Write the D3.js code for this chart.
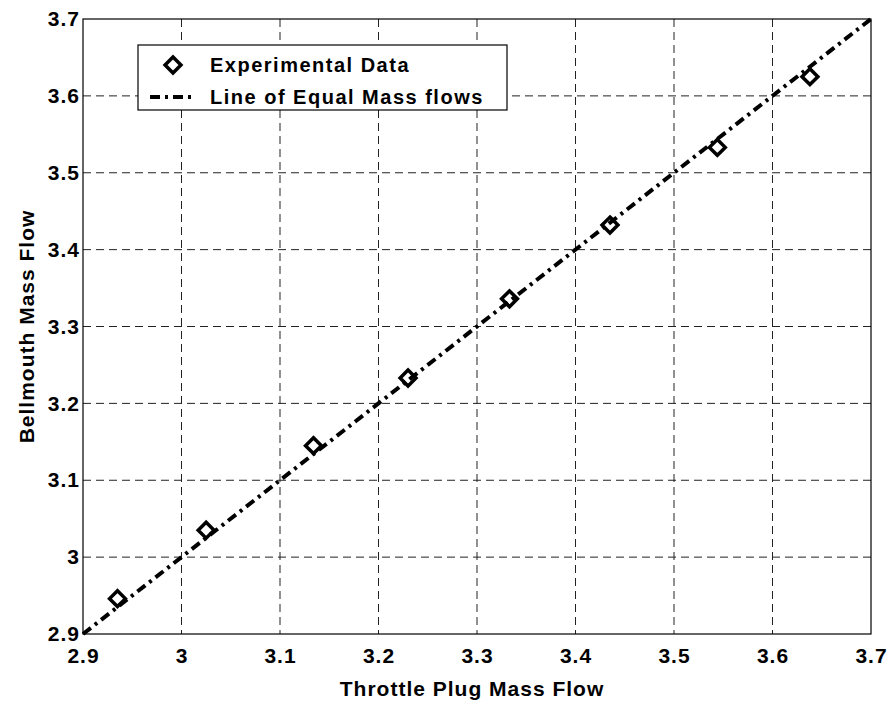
<!DOCTYPE html>
<html>
<head>
<meta charset="utf-8">
<script src="https://cdn.jsdelivr.net/npm/d3@7"></script>
<style>
  body { margin: 0; background: #fff; }
  text { font-family: "Liberation Sans", Arial, sans-serif; font-weight: bold; fill: #000; }
  .grid line { stroke: #222; stroke-width: 1; stroke-dasharray: 8,5; }
</style>
</head>
<body>
<div id="chart"></div>
<script>
// measured points (throttle plug vs bellmouth)
let throttleFlow = [2.935, 3.025, 3.134, 3.230, 3.333, 3.435, 3.544, 3.638];
let bellmouthFlow = [2.946, 3.035, 3.145, 3.233, 3.336, 3.432, 3.533, 3.625];
// line of equal mass flows
let equalLine = [2.9, 3.7];
let ticks = [2.9, 3.0, 3.1, 3.2, 3.3, 3.4, 3.5, 3.6, 3.7];
let tickLabels = ["2.9", "3", "3.1", "3.2", "3.3", "3.4", "3.5", "3.6", "3.7"];
let legendLabels = ["Experimental Data", "Line of Equal Mass flows"];

let width = 891, height = 704;
let margin = {top: 19, right: 20, bottom: 70, left: 83};
let plotW = width - margin.left - margin.right;
let plotH = height - margin.top - margin.bottom;

let svg = d3.select("#chart").append("svg")
    .attr("width", width)
    .attr("height", height);

let g = svg.append("g")
    .attr("transform", "translate(" + margin.left + "," + margin.top + ")");

let x = d3.scaleLinear().domain([2.9, 3.7]).range([0, plotW]);
let y = d3.scaleLinear().domain([2.9, 3.7]).range([plotH, 0]);

// grid
let grid = g.append("g").attr("class", "grid");
grid.selectAll(".vg").data(ticks.slice(1, -1)).enter().append("line")
    .attr("x1", d => x(d)).attr("x2", d => x(d))
    .attr("y1", 0).attr("y2", plotH);
grid.selectAll(".hg").data(ticks.slice(1, -1)).enter().append("line")
    .attr("y1", d => y(d)).attr("y2", d => y(d))
    .attr("x1", 0).attr("x2", plotW);

// frame
g.append("rect")
    .attr("width", plotW).attr("height", plotH)
    .attr("fill", "none").attr("stroke", "#000").attr("stroke-width", 1.2);

// axes labels
let xAxis = d3.axisBottom(x).tickValues(ticks).tickSize(0).tickPadding(14)
    .tickFormat((d, i) => tickLabels[i]);
let yAxis = d3.axisLeft(y).tickValues(ticks).tickSize(0).tickPadding(3)
    .tickFormat((d, i) => tickLabels[i]);

g.append("g").attr("transform", "translate(0," + plotH + ")").call(xAxis)
    .call(a => a.select(".domain").remove())
    .selectAll("text").style("font-size", "21px").style("letter-spacing", "1px").attr("fill", "#000");
g.append("g").call(yAxis)
    .call(a => a.select(".domain").remove())
    .selectAll("text").style("font-size", "21px").style("letter-spacing", "1px").attr("fill", "#000");

// equal flow line
let line = d3.line().x(d => x(d)).y(d => y(d));
g.append("path")
    .datum(equalLine)
    .attr("d", line)
    .attr("fill", "none")
    .attr("stroke", "#000")
    .attr("stroke-width", 4)
    .attr("stroke-dasharray", "10,5,3,5");

// experimental data markers
let diamond = d3.symbol().type(d3.symbolDiamond2).size(160);
g.selectAll(".pt").data(throttleFlow).enter().append("path")
    .attr("class", "pt")
    .attr("d", diamond)
    .attr("transform", (d, i) => "translate(" + x(d) + "," + y(bellmouthFlow[i]) + ")")
    .attr("fill", "none")
    .attr("stroke", "#000")
    .attr("stroke-width", 3.5);

// axis titles
svg.append("text")
    .attr("x", margin.left + plotW / 2 - 5)
    .attr("y", 696)
    .attr("text-anchor", "middle")
    .style("font-size", "21px")
    .style("letter-spacing", "1px")
    .text("Throttle Plug Mass Flow");

svg.append("text")
    .attr("transform", "translate(34," + (margin.top + plotH / 2) + ") rotate(-90)")
    .attr("text-anchor", "middle")
    .style("font-size", "21px")
    .style("letter-spacing", "1px")
    .text("Bellmouth Mass Flow");

// legend
let legend = svg.append("g").attr("transform", "translate(138,45)");
legend.append("rect")
    .attr("width", 369).attr("height", 65)
    .attr("fill", "#fff").attr("stroke", "#000").attr("stroke-width", 1.2);
legend.append("path")
    .attr("d", diamond)
    .attr("transform", "translate(35,20)")
    .attr("fill", "none").attr("stroke", "#000").attr("stroke-width", 3.5);
legend.append("line")
    .attr("x1", 12).attr("x2", 54).attr("y1", 52).attr("y2", 52)
    .attr("stroke", "#000").attr("stroke-width", 4)
    .attr("stroke-dasharray", "10,5,3,5");
legend.selectAll(".lt").data(legendLabels).enter().append("text")
    .attr("x", 72)
    .attr("y", (d, i) => 27 + i * 32)
    .style("font-size", "20px")
    .style("letter-spacing", "1.5px")
    .text(d => d);
</script>
</body>
</html>
